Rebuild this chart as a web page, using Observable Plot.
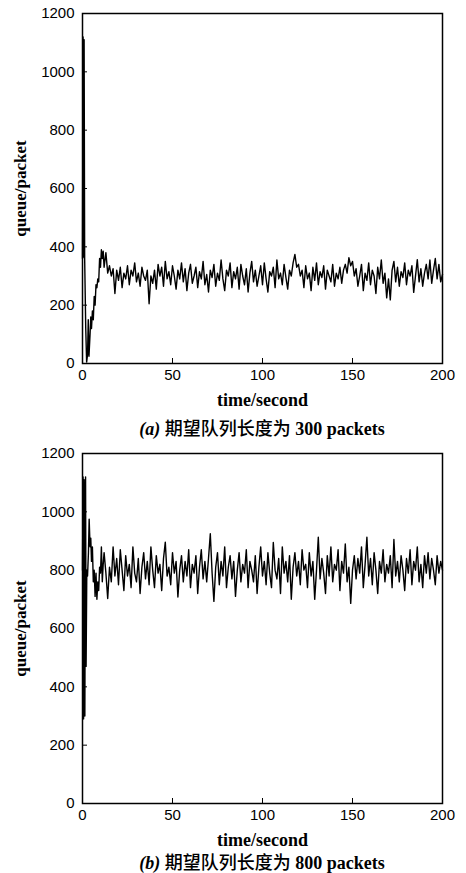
<!DOCTYPE html>
<html>
<head>
<meta charset="utf-8">
<script src="https://cdn.jsdelivr.net/npm/d3@7"></script>
<script src="https://cdn.jsdelivr.net/npm/@observablehq/plot@0.6"></script>
<style>
  html, body { margin: 0; padding: 0; background: #fff; }
  #page { position: relative; width: 466px; height: 873px; overflow: hidden; background: #fff; }
  .panel { position: absolute; left: 0; width: 466px; }
  .caption {
    position: absolute; left: 82px; width: 360px; text-align: center;
    font-family: "Liberation Serif", "Times New Roman", serif; font-weight: bold;
    font-size: 18px; line-height: 20px; color: #000; white-space: nowrap;
  }
  .caption i { font-style: italic; }
  .caption .zh { font-family: "Noto Sans CJK SC", sans-serif; font-weight: 500; }
</style>
</head>
<body>
<div id="page"></div>
<script>
// Axis ticks shared by both panels
const xTicks = [0, 50, 100, 150, 200];
const yTicks = [0, 200, 400, 600, 800, 1000, 1200];

// (a) target queue 300 packets — start-up transient (irregular time steps)
const rampTimeA  = [0, 0.3, 0.6, 0.9, 1.2, 1.8, 2.3, 2.8, 3.2, 3.6, 4.2, 4.6, 5.0, 5.5, 6.0, 6.5, 7.0, 7.5, 8.0, 8.5, 9.0, 9.5, 10.0, 10.5, 11.0, 11.5];
const rampQueueA = [360, 1120, 365, 1110, 360, 120, 5, 30, 150, 25, 100, 160, 120, 180, 150, 230, 200, 270, 260, 290, 280, 360, 330, 390, 360, 385];

// (a) queue length sampled once per second from t = 12 s to t = 200 s
const steadyStart = 12;
const queueA = [
  330, 380, 310, 335, 300, 325, 240, 320, 285, 330, 260, 310, 290, 335, 270, 320, 300, 345, 280, 310,
  265, 330, 300, 285, 320, 205, 300, 275, 320, 255, 340, 300, 330, 265, 350, 290, 315, 270, 335, 300,
  255, 320, 290, 345, 280, 325, 250, 310, 340, 275, 300, 330, 260, 315, 290, 350, 270, 305, 245, 320,
  295, 340, 265, 310, 285, 355, 290, 250, 320, 300, 345, 260, 315, 290, 330, 255, 340, 300, 270, 325,
  245, 310, 350, 280, 320, 265, 300, 335, 270, 345, 290, 245, 315, 300, 330, 260, 355, 290, 310, 270,
  340, 295, 255, 320, 300, 345, 374, 330, 340, 300, 320, 260, 335, 290, 310, 250, 330, 285, 345, 270,
  315, 295, 335, 255, 320, 300, 280, 340, 265, 310, 290, 330, 275, 320, 340, 310, 363, 335, 350, 300,
  325, 265, 300, 340, 250, 310, 285, 345, 270, 320, 300, 240, 330, 290, 355, 275, 310, 225, 290, 218,
  320, 350, 280, 330, 265, 315, 295, 345, 270, 320, 300, 335, 244, 300, 356, 280, 325, 265, 310, 340,
  290, 355, 275, 320, 360, 290, 340, 280, 305
];

// (b) target queue 800 packets — start-up transient
const rampTimeB  = [0, 0.3, 0.6, 0.9, 1.3, 1.7, 2.0, 2.4, 2.8, 3.3, 3.7, 4.2, 4.6, 5.0, 5.5, 6.0, 6.5, 7.0, 7.5, 8.0, 8.5, 9.0, 9.5, 10.0, 10.5, 11.0, 11.5];
const rampQueueB = [800, 1120, 290, 1110, 300, 1120, 470, 800, 780, 860, 975, 880, 910, 830, 880, 760, 800, 710, 790, 700, 760, 730, 810, 790, 880, 760, 820];

// (b) queue length sampled once per second from t = 12 s to t = 200 s
const queueB = [
  860, 790, 703, 810, 760, 880, 780, 840, 750, 870, 800, 730, 850, 780, 820, 740, 880, 790, 760, 840,
  720, 810, 860, 770, 830, 750, 880, 800, 740, 850, 790, 820, 730, 840, 896, 780, 810, 750, 860, 790,
  830, 708, 800, 850, 760, 830, 780, 870, 740, 820, 790, 850, 720, 810, 870, 770, 830, 760, 840, 925,
  790, 693, 810, 860, 750, 830, 780, 880, 740, 810, 850, 770, 830, 710, 800, 860, 760, 820, 790, 870,
  740, 830, 800, 760, 850, 720, 810, 880, 780, 830, 750, 860, 790, 740, 895, 800, 770, 840, 720, 880,
  790, 830, 760, 850, 700, 810, 860, 780, 830, 750, 870, 800, 820, 740, 860, 780, 830, 700, 800, 913,
  770, 840, 790, 720, 850, 780, 880, 760, 820, 800, 870, 730, 830, 790, 890, 760, 810, 686, 800, 850,
  770, 840, 790, 880, 740, 820, 913, 780, 840, 750, 860, 800, 720, 830, 790, 870, 760, 820, 790, 850,
  740, 905, 780, 830, 760, 850, 800, 730, 840, 790, 870, 750, 830, 800, 880, 760, 820, 740, 850, 790,
  860, 770, 840, 800, 750, 850, 790, 830, 800
];

function series(rampT, rampQ, steady) {
  const pts = rampT.map((t, i) => ({t, q: rampQ[i]}));
  steady.forEach((q, i) => pts.push({t: steadyStart + i, q}));
  return pts;
}

const serif = '"Liberation Serif", "Times New Roman", serif';
const plotW = 466 - 82 - 24;   // inner width
const plotH = 410 - 13 - 47;   // inner height
const tickLen = 5;

function chart(data) {
  return Plot.plot({
    width: 466,
    height: 410,
    marginTop: 13,
    marginLeft: 82,
    marginRight: 24,
    marginBottom: 47,
    style: {
      fontFamily: '"Liberation Sans", Arial, sans-serif',
      fontSize: "15px",
      color: "#000",
      background: "#fff",
      overflow: "visible"
    },
    x: {domain: [0, 200]},
    y: {domain: [0, 1200]},
    marks: [
      Plot.line(data, {x: "t", y: "q", stroke: "#000", strokeWidth: 1.4}),
      // tick labels only; the inward tick marks are drawn below
      Plot.axisX(xTicks, {tickSize: 0, tickPadding: 6, label: null, fontSize: 15, tickFormat: d => String(d)}),
      Plot.axisY(yTicks, {tickSize: 0, tickPadding: 8, label: null, fontSize: 15, tickFormat: d => String(d)}),
      Plot.tickX(xTicks, {x: d => d, insetTop: plotH - tickLen, stroke: "#000", strokeWidth: 1}),
      Plot.tickY(yTicks, {y: d => d, insetRight: plotW - tickLen, stroke: "#000", strokeWidth: 1}),
      Plot.frame({stroke: "#000", strokeWidth: 1.5}),
      Plot.text(["queue/packet"], {
        frameAnchor: "left", dx: -62, rotate: -90, textAnchor: "middle", lineAnchor: "middle",
        fontFamily: serif, fontWeight: "bold", fontSize: 17, fill: "#000"
      }),
      Plot.text(["time/second"], {
        frameAnchor: "bottom", dy: 37, textAnchor: "middle", lineAnchor: "middle",
        fontFamily: serif, fontWeight: "bold", fontSize: 18, fill: "#000"
      })
    ]
  });
}

const page = document.getElementById("page");

function addPanel(data, top, captionTop, label, target) {
  const wrap = document.createElement("div");
  wrap.className = "panel";
  wrap.style.top = top + "px";
  wrap.appendChild(chart(data));
  page.appendChild(wrap);

  const cap = document.createElement("div");
  cap.className = "caption";
  cap.style.top = captionTop + "px";
  cap.innerHTML = `<i>(${label})</i> <span class="zh">期望队列长度为</span> ${target} packets`;
  page.appendChild(cap);
}

addPanel(series(rampTimeA, rampQueueA, queueA), 0, 417, "a", 300);
addPanel(series(rampTimeB, rampQueueB, queueB), 440, 851, "b", 800);
</script>
</body>
</html>
